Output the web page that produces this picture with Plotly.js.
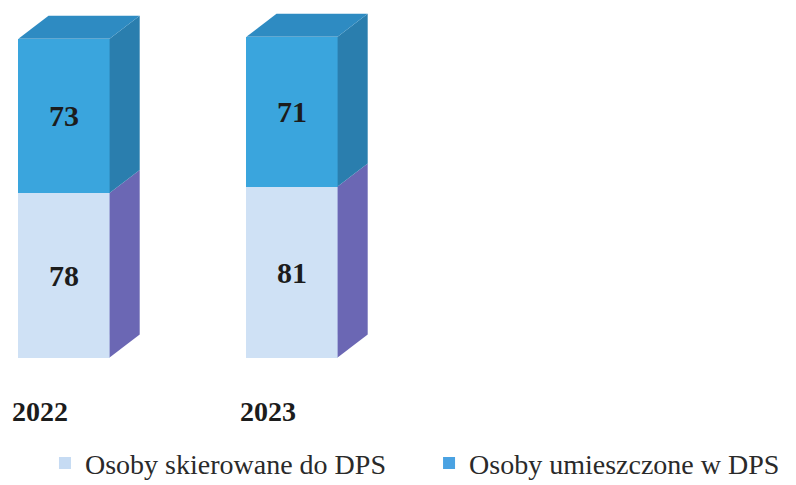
<!DOCTYPE html>
<html>
<head>
<meta charset="utf-8">
<script src="https://cdn.plot.ly/plotly-3.0.1.min.js"></script>
<style>html,body{margin:0;padding:0;background:#fff;}#chart{width:796px;height:485px;}</style>
</head>
<body>
<div id="chart"></div>
<script>
const categories = ['2022', '2023'];
const skierowane = [78, 81];
const umieszczone = [73, 71];
const seriesNames = ['Osoby skierowane do DPS', 'Osoby umieszczone w DPS'];

const xpos = categories.map((c, i) => i);
const W = 0.40;      // bar width (x units)
const DX = 0.132;    // depth in x units
const DY = 10.9;     // depth in y units

const frontCols = ['#cfe1f5', '#3aa5dd'];
const sideCols = ['#6b67b4', '#2a7eae'];
const topCol = '#2e8bc2';
const legendCols = ['#c6dbf3', '#4aa2e2'];
const serif = 'Liberation Serif, Times New Roman, serif';

const traces = [];
const series = [skierowane, umieszczone];
series.forEach((vals, s) => {
  traces.push({
    type: 'bar', x: xpos, y: vals, width: W, name: seriesNames[s],
    marker: {color: frontCols[s], line: {width: 0}},
    text: vals.map(v => '<b>' + v + '</b>'),
    textposition: 'inside', insidetextanchor: 'middle',
    textfont: {family: serif, size: 30, color: '#1c1c1c'},
    constraintext: 'none', hoverinfo: 'skip', showlegend: false
  });
});
// legend entries (one legend box per series)
series.forEach((vals, s) => {
  traces.push({
    type: 'bar', x: [null], y: [null], name: seriesNames[s],
    legend: s === 0 ? 'legend' : 'legend2',
    marker: {color: legendCols[s]}, showlegend: true, hoverinfo: 'skip'
  });
});
// 3D side and top faces computed from data
xpos.forEach((x, i) => {
  let base = 0;
  series.forEach((vals, s) => {
    const top = base + vals[i];
    const xr = x + W / 2;
    traces.push({
      type: 'scatter', mode: 'lines', fill: 'toself', fillcolor: sideCols[s],
      x: [xr, xr + DX, xr + DX, xr, xr],
      y: [base, base + DY, top + DY, top, base],
      line: {width: 0, color: sideCols[s]}, hoverinfo: 'skip', showlegend: false
    });
    base = top;
  });
  const xl = x - W / 2, xr = x + W / 2;
  traces.push({
    type: 'scatter', mode: 'lines', fill: 'toself', fillcolor: topCol,
    x: [xl, xl + DX, xr + DX, xr, xl],
    y: [base, base + DY, base + DY, base, base],
    line: {width: 0, color: topCol}, hoverinfo: 'skip', showlegend: false
  });
});

const annotations = categories.map((c, i) => ({
  x: xpos[i] - W / 2, y: -25.7, xref: 'x', yref: 'y', xanchor: 'left', yanchor: 'middle',
  xshift: -8, text: '<b>' + c + '</b>', showarrow: false,
  font: {family: serif, size: 28, color: '#1c1c1c'}
}));

const legendBase = {
  orientation: 'h', xanchor: 'left', y: 0.045, yanchor: 'middle',
  font: {family: serif, size: 28, color: '#2a2a2a'},
  bgcolor: 'rgba(0,0,0,0)', itemclick: false, itemdoubleclick: false
};

const layout = {
  width: 796, height: 485,
  margin: {l: 0, r: 0, t: 0, b: 0, autoexpand: false},
  paper_bgcolor: '#ffffff', plot_bgcolor: '#ffffff',
  barmode: 'stack',
  xaxis: {range: [-0.2807, 3.2105], visible: false, fixedrange: true},
  yaxis: {range: [-60.4, 169.4], visible: false, fixedrange: true},
  showlegend: true,
  legend: Object.assign({}, legendBase, {x: 0.0565}),
  legend2: Object.assign({}, legendBase, {x: 0.5390}),
  annotations: annotations
};

Plotly.newPlot('chart', traces, layout, {staticPlot: true, displayModeBar: false});
</script>
</body>
</html>
